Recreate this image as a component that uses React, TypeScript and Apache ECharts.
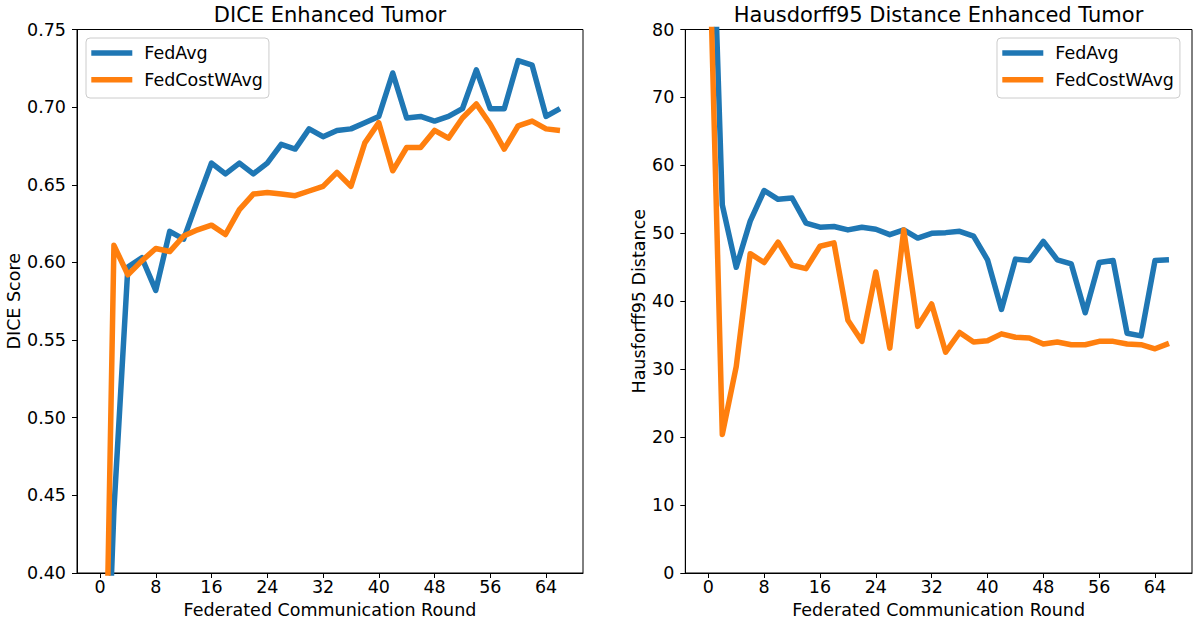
import React, { useEffect, useRef } from "react";
import * as echarts from "echarts";

const FONT = "DejaVu Sans";
const BLUE = "#1f77b4";
const ORANGE = "#ff7f0e";

const rounds = [0, 2, 4, 6, 8, 10, 12, 14, 16, 18, 20, 22, 24, 26, 28, 30, 32, 34, 36, 38, 40, 42, 44, 46, 48, 50, 52, 54, 56, 58, 60, 62, 64, 66];
const xTicks = [0, 8, 16, 24, 32, 40, 48, 56, 64];
const seriesNames = ["FedAvg", "FedCostWAvg"];

const diceFedAvg = [0.2, 0.441, 0.597, 0.603, 0.582, 0.62, 0.615, 0.64, 0.664, 0.657, 0.664, 0.657, 0.664, 0.676, 0.673, 0.686, 0.681, 0.685, 0.686, 0.69, 0.694, 0.722, 0.693, 0.694, 0.691, 0.694, 0.699, 0.724, 0.699, 0.699, 0.73, 0.727, 0.694, 0.699];
const diceFedCostWAvg = [0.12, 0.611, 0.592, 0.601, 0.609, 0.607, 0.617, 0.621, 0.624, 0.618, 0.634, 0.644, 0.645, 0.644, 0.643, 0.646, 0.649, 0.658, 0.649, 0.677, 0.69, 0.659, 0.674, 0.674, 0.685, 0.68, 0.693, 0.702, 0.689, 0.673, 0.688, 0.691, 0.686, 0.685];

const hdFedAvg = [118, 54.2, 45.0, 51.8, 56.3, 55.0, 55.2, 51.5, 50.9, 51.0, 50.5, 50.9, 50.6, 49.8, 50.5, 49.3, 50.0, 50.1, 50.3, 49.6, 46.1, 38.8, 46.2, 46.0, 48.8, 46.1, 45.5, 38.3, 45.7, 46.0, 35.3, 34.9, 46.0, 46.1];
const hdFedCostWAvg = [99, 20.4, 30.4, 47.0, 45.7, 48.7, 45.3, 44.8, 48.1, 48.6, 37.2, 34.1, 44.3, 33.1, 50.5, 36.3, 39.6, 32.5, 35.4, 34.0, 34.2, 35.2, 34.7, 34.6, 33.7, 34.0, 33.6, 33.6, 34.1, 34.1, 33.7, 33.6, 33.0, 33.8];

const textBase = { color: "#000", fontFamily: FONT, fontSize: 17.5 };

function makeX(gridIndex: number) {
  return {
    type: "value",
    gridIndex,
    min: -3.3,
    max: 69.3,
    axisLine: { show: true, onZero: false, lineStyle: { color: "#000", width: 1 } },
    axisTick: { show: true, customValues: xTicks, length: 5, lineStyle: { color: "#000" } },
    axisLabel: { customValues: xTicks, margin: 5, ...textBase },
    splitLine: { show: false },
    name: "Federated Communication Round",
    nameLocation: "middle",
    nameGap: 27,
    nameTextStyle: { ...textBase },
  };
}

function makeY(gridIndex: number, min: number, max: number, interval: number, name: string, nameGap: number, digits: number) {
  return {
    type: "value",
    gridIndex,
    min,
    max,
    interval,
    axisLine: { show: true, onZero: false, lineStyle: { color: "#000", width: 1 } },
    axisTick: { show: true, length: 5, lineStyle: { color: "#000" } },
    axisLabel: { margin: 11, formatter: (v: number) => v.toFixed(digits), ...textBase },
    splitLine: { show: false },
    name,
    nameLocation: "middle",
    nameGap,
    nameTextStyle: { ...textBase },
  };
}

function makeLine(name: string, color: string, values: number[], idx: number) {
  return {
    type: "line",
    name,
    xAxisIndex: idx,
    yAxisIndex: idx,
    data: rounds.map((r, i) => [r, values[i]]),
    showSymbol: false,
    symbol: "none",
    clip: true,
    lineStyle: { color, width: 5.5, join: "round", cap: "butt" },
    itemStyle: { color },
  };
}

function makeLegend(left: number) {
  return {
    show: true,
    data: seriesNames,
    orient: "vertical",
    left,
    top: 38,
    icon: "rect",
    itemWidth: 41,
    itemHeight: 5.5,
    itemGap: 5.7,
    padding: [4.5, 6, 7.8, 5.3],
    backgroundColor: "rgba(255,255,255,0.8)",
    borderColor: "#cccccc",
    borderWidth: 1,
    borderRadius: 4,
    textStyle: { ...textBase, lineHeight: 21, padding: [0, 0, 0, 7] },
  };
}

export default function App() {
  const ref = useRef<HTMLDivElement>(null);
  useEffect(() => {
    const chart = echarts.init(ref.current!, null, { renderer: "svg" });
    chart.setOption({
      animation: false,
      backgroundColor: "#fff",
      title: [
        { text: "DICE Enhanced Tumor", left: 330, top: 4, textAlign: "center", padding: 0, textStyle: { ...textBase, fontSize: 21, fontWeight: "normal" } },
        { text: "Hausdorff95 Distance Enhanced Tumor", left: 938.5, top: 4, textAlign: "center", padding: 0, textStyle: { ...textBase, fontSize: 21, fontWeight: "normal" } },
      ],
      legend: [makeLegend(86), makeLegend(997)],
      grid: [
        { left: 77, top: 29.5, width: 506, height: 543.5, show: true, borderColor: "#000", borderWidth: 1, backgroundColor: "transparent" },
        { left: 685.3, top: 29.5, width: 506.7, height: 543.5, show: true, borderColor: "#000", borderWidth: 1, backgroundColor: "transparent" },
      ],
      xAxis: [makeX(0), makeX(1)],
      yAxis: [
        makeY(0, 0.4, 0.75, 0.05, "DICE Score", 51, 2),
        makeY(1, 0, 80, 10, "Hausforff95 Distance", 35, 0),
      ],
      series: [
        makeLine("FedAvg", BLUE, diceFedAvg, 0),
        makeLine("FedCostWAvg", ORANGE, diceFedCostWAvg, 0),
        makeLine("FedAvg", BLUE, hdFedAvg, 1),
        makeLine("FedCostWAvg", ORANGE, hdFedCostWAvg, 1),
      ],
    });
    return () => chart.dispose();
  }, []);
  return <div ref={ref} style={{ position: "fixed", left: 0, top: 0, width: 1199, height: 627 }} />;
}
